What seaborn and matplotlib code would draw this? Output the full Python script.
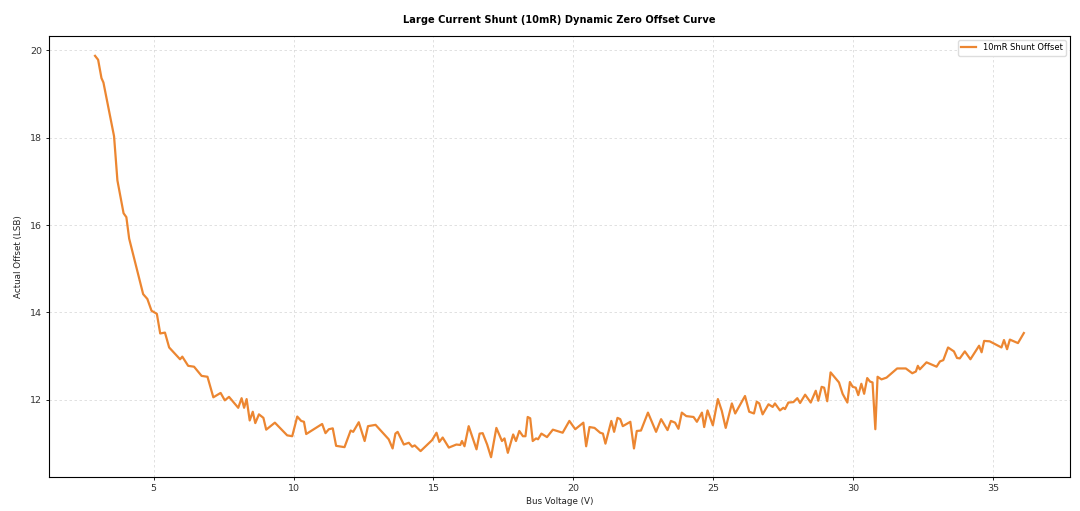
import numpy as np
import pandas as pd
import seaborn as sb
from matplotlib import pyplot as plt

voltage = [
    2.90, 3.01, 3.13, 3.20, 3.58, 3.70, 3.92, 4.02, 4.12, 4.62, 4.77, 4.92, 5.11,
    5.23, 5.40, 5.55, 5.94, 6.02, 6.23, 6.44, 6.71, 6.92, 7.13, 7.39, 7.54, 7.69,
    8.02, 8.14, 8.23, 8.32, 8.43, 8.54, 8.63, 8.76, 8.92, 9.02, 9.33, 9.77, 9.95,
    10.13, 10.27, 10.37, 10.45, 11.02, 11.14, 11.26, 11.40, 11.52, 11.82, 12.04,
    12.13, 12.33, 12.54, 12.66, 12.93, 13.40, 13.54, 13.64, 13.72, 13.94, 14.12,
    14.24, 14.33, 14.54, 14.95, 15.11, 15.21, 15.33, 15.55, 15.82, 15.96, 16.02,
    16.11, 16.26, 16.54, 16.65, 16.76, 16.92, 17.06, 17.25, 17.45, 17.54, 17.66,
    17.85, 17.95, 18.07, 18.20, 18.29, 18.37, 18.46, 18.55, 18.67, 18.74, 18.86,
    19.06, 19.27, 19.42, 19.62, 19.86, 20.07, 20.36, 20.46, 20.58, 20.76, 20.96,
    21.06, 21.15, 21.36, 21.46, 21.58, 21.68, 21.77, 22.04, 22.17, 22.27, 22.42,
    22.67, 22.96, 23.14, 23.37, 23.49, 23.64, 23.76, 23.88, 24.04, 24.30, 24.42,
    24.60, 24.68, 24.80, 24.99, 25.17, 25.31, 25.45, 25.67, 25.79, 26.14, 26.29,
    26.46, 26.56, 26.65, 26.77, 26.98, 27.13, 27.21, 27.39, 27.51, 27.57, 27.69,
    27.87, 28.01, 28.11, 28.29, 28.49, 28.67, 28.76, 28.88, 28.97, 29.08, 29.20,
    29.50, 29.63, 29.80, 29.89, 29.99, 30.10, 30.19, 30.30, 30.40, 30.51, 30.61,
    30.70, 30.80, 30.88, 31.02, 31.20, 31.58, 31.89, 32.12, 32.25, 32.32, 32.39,
    32.63, 32.99, 33.11, 33.23, 33.40, 33.61, 33.72, 33.82, 34.00, 34.20, 34.51,
    34.60, 34.69, 34.89, 35.31, 35.40, 35.51, 35.61, 35.90, 36.11,
]
offset = [
    19.87, 19.78, 19.36, 19.26, 18.03, 17.02, 16.27, 16.18, 15.69, 14.42, 14.31,
    14.04, 13.97, 13.52, 13.54, 13.20, 12.93, 12.99, 12.78, 12.76, 12.55, 12.53,
    12.06, 12.16, 11.99, 12.07, 11.82, 12.04, 11.82, 12.02, 11.53, 11.73, 11.47,
    11.67, 11.59, 11.32, 11.48, 11.19, 11.17, 11.62, 11.52, 11.50, 11.22, 11.45,
    11.24, 11.33, 11.35, 10.95, 10.92, 11.30, 11.27, 11.49, 11.06, 11.40, 11.43,
    11.10, 10.89, 11.23, 11.27, 10.98, 11.02, 10.93, 10.96, 10.83, 11.08, 11.25,
    11.04, 11.14, 10.91, 10.98, 10.97, 11.06, 10.94, 11.40, 10.87, 11.23, 11.24,
    10.98, 10.69, 11.36, 11.06, 11.12, 10.79, 11.21, 11.06, 11.29, 11.17, 11.17,
    11.61, 11.58, 11.06, 11.12, 11.10, 11.23, 11.15, 11.32, 11.29, 11.25, 11.52,
    11.33, 11.48, 10.94, 11.38, 11.36, 11.25, 11.23, 11.00, 11.52, 11.27, 11.59,
    11.56, 11.40, 11.50, 10.89, 11.29, 11.30, 11.71, 11.27, 11.56, 11.31, 11.52,
    11.48, 11.34, 11.71, 11.63, 11.61, 11.50, 11.71, 11.38, 11.76, 11.42, 12.02,
    11.75, 11.36, 11.92, 11.69, 12.09, 11.73, 11.69, 11.96, 11.92, 11.67, 11.90,
    11.84, 11.92, 11.76, 11.82, 11.79, 11.94, 11.95, 12.04, 11.93, 12.12, 11.94,
    12.21, 11.98, 12.30, 12.28, 11.97, 12.63, 12.40, 12.14, 11.94, 12.41, 12.30,
    12.28, 12.11, 12.37, 12.14, 12.50, 12.42, 12.40, 11.33, 12.53, 12.47, 12.51,
    12.72, 12.72, 12.61, 12.65, 12.78, 12.70, 12.86, 12.76, 12.88, 12.91, 13.20,
    13.11, 12.96, 12.95, 13.11, 12.93, 13.24, 13.09, 13.35, 13.34, 13.20, 13.37,
    13.16, 13.38, 13.30, 13.53,
]

df = pd.DataFrame({"Bus Voltage (V)": voltage, "Actual Offset (LSB)": offset})

fig, ax = plt.subplots(figsize=(10.8, 5.11), dpi=100)
fig.subplots_adjust(left=0.045, right=0.991, top=0.93, bottom=0.066)

sb.lineplot(data=df, x="Bus Voltage (V)", y="Actual Offset (LSB)", ax=ax,
            color="#EC8631", linewidth=1.6, label="10mR Shunt Offset")

ax.set_title("Large Current Shunt (10mR) Dynamic Zero Offset Curve",
             fontsize=7.1, fontweight="bold", pad=9)
ax.set_xlabel("Bus Voltage (V)", fontsize=6.3, labelpad=3, color="#222222")
ax.set_ylabel("Actual Offset (LSB)", fontsize=6.3, labelpad=5, color="#222222")
ax.tick_params(labelsize=6.8, length=2.5, width=0.6, pad=2, labelcolor="#333333")
ax.grid(True, linestyle=(0, (3, 3)), color="#cccccc", alpha=0.7, linewidth=0.6)
for s in ax.spines.values():
    s.set_linewidth(0.8)
ax.legend(loc="upper right", fontsize=6, framealpha=1, edgecolor="#dddddd",
          handlelength=1.8)

plt.savefig("out.png", dpi=100)
